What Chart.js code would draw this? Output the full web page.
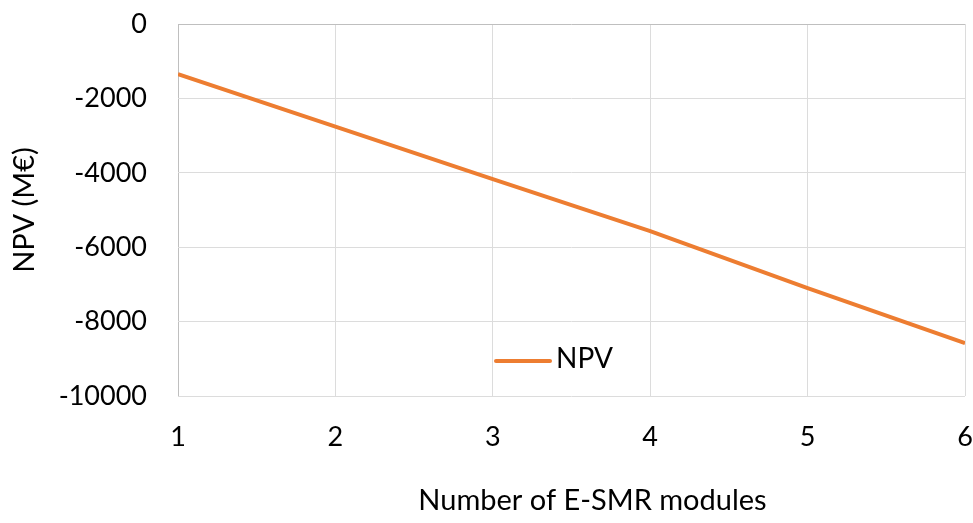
<!DOCTYPE html>
<html>
<head>
<meta charset="utf-8">
<script src="https://cdn.jsdelivr.net/npm/chart.js@4.4.1/dist/chart.umd.min.js"></script>
<style>
  html, body { margin: 0; padding: 0; background: #ffffff; }
  #wrap { width: 973px; height: 523px; position: relative; }
</style>
</head>
<body>
<div id="wrap"><canvas id="c"></canvas></div>
<script>
// Net present value against number of modules
const modules = [1, 2, 3, 4, 5, 6];
const npvValues = [-1350, -2760, -4170, -5570, -7100, -8580];
const yTicks = [0, -2000, -4000, -6000, -8000, -10000];
const seriesName = 'NPV';
const xTitle = 'Number of E-SMR modules';
const yTitle = 'NPV (M€)';

const FONT = 'Lato, "Open Sans", sans-serif';
const LINE_COLOR = '#ED7D31';

// Legend inside the plot area, plus the horizontal axis title set a little right of centre
const annotations = {
  id: 'annotations',
  afterDraw(chart) {
    const { ctx, chartArea } = chart;
    const ds = chart.data.datasets[0];
    const x0 = chartArea.left + 318;
    const y = chartArea.bottom - 35;
    ctx.save();
    ctx.strokeStyle = ds.borderColor;
    ctx.lineWidth = ds.borderWidth;
    ctx.lineCap = 'round';
    ctx.beginPath();
    ctx.moveTo(x0, y);
    ctx.lineTo(x0 + 54, y);
    ctx.stroke();
    ctx.fillStyle = '#000000';
    ctx.font = '28px ' + FONT;
    ctx.textAlign = 'left';
    ctx.textBaseline = 'middle';
    ctx.fillText(ds.label, x0 + 60, y - 2);

    ctx.font = '29px ' + FONT;
    ctx.textAlign = 'center';
    ctx.textBaseline = 'middle';
    ctx.fillText(xTitle, (chartArea.left + chartArea.right) / 2 + 21, chart.height - 22);
    ctx.restore();
  }
};

new Chart(document.getElementById('c'), {
  type: 'line',
  data: {
    datasets: [{
      label: seriesName,
      data: modules.map((m, i) => ({ x: m, y: npvValues[i] })),
      borderColor: LINE_COLOR,
      backgroundColor: LINE_COLOR,
      borderWidth: 4,
      pointRadius: 0,
      tension: 0,
      fill: false
    }]
  },
  options: {
    responsive: true,
    maintainAspectRatio: false,
    animation: false,
    layout: { padding: { top: 24, right: 8, left: 0, bottom: 0 } },
    plugins: {
      legend: { display: false },
      tooltip: { enabled: false }
    },
    scales: {
      x: {
        type: 'linear',
        min: modules[0],
        max: modules[modules.length - 1],
        afterFit(s) { s.height = 127; s.paddingLeft = 0; s.paddingRight = 0; },
        ticks: {
          stepSize: 1,
          padding: 25,
          color: '#000000',
          font: { family: FONT, size: 27 },
          callback: v => String(v)
        },
        grid: {
          drawTicks: false,
          lineWidth: 1,
          color: ctx => (ctx.tick && ctx.tick.value === modules[0]) ? '#bfbfbf' : '#dcdcdc'
        },
        border: { display: false },
        title: { display: false }
      },
      y: {
        min: yTicks[yTicks.length - 1],
        max: yTicks[0],
        afterFit(s) { s.width = 178; s.paddingTop = 0; s.paddingBottom = 0; },
        afterBuildTicks(s) { s.ticks = yTicks.map(v => ({ value: v })); },
        ticks: {
          padding: 31,
          color: '#000000',
          font: { family: FONT, size: 27 },
          callback: v => String(v)
        },
        grid: {
          drawTicks: false,
          lineWidth: 1,
          color: ctx => (ctx.tick && ctx.tick.value === 0) ? '#bfbfbf' : '#dcdcdc'
        },
        border: { display: false },
        title: {
          display: true,
          text: yTitle,
          color: '#000000',
          font: { family: FONT, size: 29 },
          padding: { top: 7, bottom: 0 }
        }
      }
    }
  },
  plugins: [annotations]
});
</script>
</body>
</html>
